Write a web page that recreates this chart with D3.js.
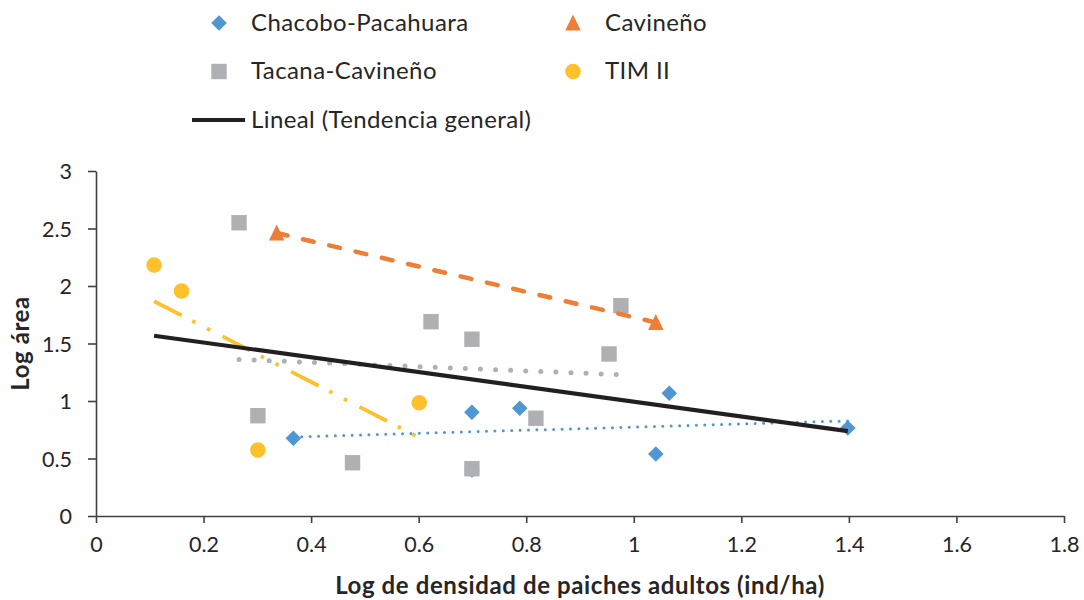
<!DOCTYPE html>
<html>
<head>
<meta charset="utf-8">
<script src="https://cdn.jsdelivr.net/npm/d3@7"></script>
<style>
  html, body { margin: 0; padding: 0; background: #fff; }
  svg { display: block; font-family: Lato, "Open Sans", sans-serif; }
</style>
</head>
<body>
<svg id="chart" width="1084" height="600"></svg>
<script>
// Axis ticks
const xTicks = [0, 0.2, 0.4, 0.6, 0.8, 1, 1.2, 1.4, 1.6, 1.8];
const yTicks = [0, 0.5, 1, 1.5, 2, 2.5, 3];

// Log density of adult paiche (x) vs log area (y), per group
const chacoboX = [0.367, 0.699, 0.788, 1.066, 1.041, 1.398, 0.699];
const chacoboY = [0.676, 0.902, 0.937, 1.067, 0.539, 0.765, 0.400];

const tacanaX = [0.266, 0.623, 0.699, 0.301, 0.477, 0.699, 0.818, 0.954, 0.976];
const tacanaY = [2.550, 1.690, 1.537, 0.872, 0.463, 0.411, 0.850, 1.409, 1.829];

const cavinenoX = [0.336, 1.041];
const cavinenoY = [2.461, 1.683];

const timX = [0.108, 0.159, 0.301, 0.601];
const timY = [2.183, 1.957, 0.574, 0.985];

// General trend: [intercept, slope]
const generalFit = [1.637, -0.643];

const seriesNames = ["Chacobo-Pacahuara", "Tacana-Cavineño", "Cavineño", "TIM II"];
const generalName = "Lineal (Tendencia general)";

const svg = d3.select("#chart");
const textColor = "#262626";
const axisColor = "#404040";

const x = d3.scaleLinear().domain([0, 1.8]).range([96, 1064]);
const y = d3.scaleLinear().domain([0, 3]).range([516, 171]);

const fmt = d3.format("~g");

// Axes
const gx = svg.append("g")
  .attr("transform", `translate(0,${y(0)})`)
  .call(d3.axisBottom(x).tickValues(xTicks).tickFormat(fmt).tickSizeInner(7).tickSizeOuter(0).tickPadding(14));
const gy = svg.append("g")
  .attr("transform", `translate(${x(0)},0)`)
  .call(d3.axisLeft(y).tickValues(yTicks).tickFormat(fmt).tickSizeInner(8).tickSizeOuter(0).tickPadding(16));

[gx, gy].forEach(g => {
  g.attr("font-family", null).attr("font-size", null);
  g.select(".domain").attr("stroke", axisColor).attr("stroke-width", 1.6);
  g.selectAll(".tick line").attr("stroke", axisColor).attr("stroke-width", 1.6);
  g.selectAll(".tick text").attr("fill", textColor).style("font-size", "21.5px");
});
gy.selectAll(".tick text").attr("dy", "0.36em");

// Axis titles
svg.append("text")
  .attr("x", (x(0) + x(1.8)) / 2).attr("y", 594)
  .attr("text-anchor", "middle").attr("fill", textColor)
  .style("font-size", "24px").style("font-weight", "bold").style("letter-spacing", "0.6px")
  .text("Log de densidad de paiches adultos (ind/ha)");

svg.append("text")
  .attr("transform", `translate(29,${(y(0) + y(3)) / 2}) rotate(-90)`)
  .attr("text-anchor", "middle").attr("fill", textColor)
  .style("font-size", "24px").style("font-weight", "bold").style("letter-spacing", "0.6px")
  .text("Log área");

// Marker shapes
function diamondPath(r) { return `M0,${-r}L${r},0L0,${r}L${-r},0Z`; }
function squarePath(s) { return `M${-s},${-s}H${s}V${s}H${-s}Z`; }
function trianglePath(w, h) { return `M0,${-h / 2 - 1}L${w / 2},${h / 2}L${-w / 2},${h / 2}Z`; }
function circlePath(r) { return `M${r},0A${r},${r} 0 1,1 ${-r},0A${r},${r} 0 1,1 ${r},0Z`; }

const series = [
  { name: seriesNames[0], xs: chacoboX, ys: chacoboY, color: "#4F96D3", shape: diamondPath(7.8),
    trend: { width: 3, dash: "0 8.4", cap: "round" } },
  { name: seriesNames[1], xs: tacanaX, ys: tacanaY, color: "#AFB0B4", shape: squarePath(7.7),
    trend: { width: 5, dash: "0 15.1", cap: "round" } },
  { name: seriesNames[2], xs: cavinenoX, ys: cavinenoY, color: "#EE7D35", shape: trianglePath(15.5, 15),
    trend: { width: 4.5, dash: "11 16", cap: "round" } },
  { name: seriesNames[3], xs: timX, ys: timY, color: "#FEC12B", shape: circlePath(7.8),
    trend: { width: 3.8, dash: "31 12 3.5 13 3.5 14", cap: "butt" } }
];

// Least squares line over a series
function fitLine(xs, ys) {
  const mx = d3.mean(xs), my = d3.mean(ys);
  let sxy = 0, sxx = 0;
  xs.forEach((v, i) => { sxy += (v - mx) * (ys[i] - my); sxx += (v - mx) * (v - mx); });
  const slope = sxy / sxx;
  return { slope, intercept: my - slope * mx };
}

// Markers
series.forEach(s => {
  svg.append("g").selectAll("path")
    .data(s.xs.map((v, i) => [v, s.ys[i]]))
    .join("path")
    .attr("d", s.shape)
    .attr("fill", s.color)
    .attr("transform", d => `translate(${x(d[0])},${y(d[1])})`);
});

// Per-series trend lines
series.forEach(s => {
  const f = fitLine(s.xs, s.ys);
  const [x0, x1] = d3.extent(s.xs);
  svg.append("line")
    .attr("x1", x(x0)).attr("y1", y(f.intercept + f.slope * x0))
    .attr("x2", x(x1)).attr("y2", y(f.intercept + f.slope * x1))
    .attr("stroke", s.color)
    .attr("stroke-width", s.trend.width)
    .attr("stroke-dasharray", s.trend.dash)
    .attr("stroke-linecap", s.trend.cap);
});

// General trend line across all groups
const allX = [].concat(chacoboX, tacanaX, cavinenoX, timX);
const [gx0, gx1] = d3.extent(allX);
svg.append("line")
  .attr("x1", x(gx0)).attr("y1", y(generalFit[0] + generalFit[1] * gx0))
  .attr("x2", x(gx1)).attr("y2", y(generalFit[0] + generalFit[1] * gx1))
  .attr("stroke", "#231F20").attr("stroke-width", 4.2);

// Legend
const legendItems = [
  { s: series[0], mx: 219, my: 23, tx: 251, ty: 31 },
  { s: series[2], mx: 573, my: 23, tx: 605, ty: 31 },
  { s: series[1], mx: 219, my: 71.5, tx: 251, ty: 79 },
  { s: series[3], mx: 573, my: 71.5, tx: 605, ty: 79 }
];
const legend = svg.append("g");
legendItems.forEach(it => {
  legend.append("path").attr("d", it.s.shape).attr("fill", it.s.color)
    .attr("transform", `translate(${it.mx},${it.my})`);
  legend.append("text").attr("x", it.tx).attr("y", it.ty)
    .attr("fill", textColor).style("font-size", "24px").style("letter-spacing", "0.4px").text(it.s.name);
});
legend.append("line").attr("x1", 192).attr("x2", 245).attr("y1", 120).attr("y2", 120)
  .attr("stroke", "#231F20").attr("stroke-width", 4);
legend.append("text").attr("x", 251).attr("y", 128)
  .attr("fill", textColor).style("font-size", "24px").style("letter-spacing", "0.4px").text(generalName);
</script>
</body>
</html>
